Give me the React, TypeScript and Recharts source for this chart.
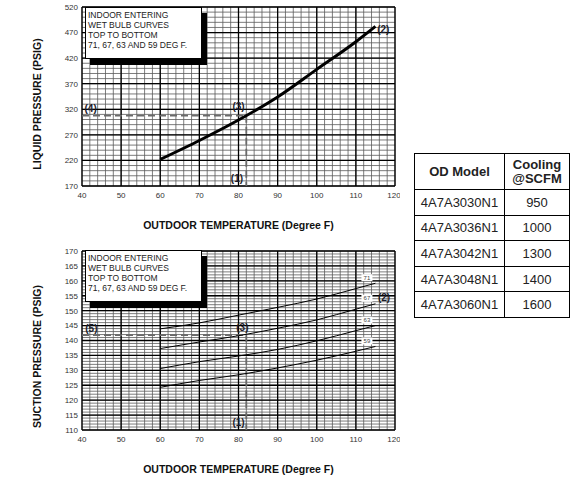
import React from "react";
import {
  Label,
  LabelList,
  Line,
  LineChart,
  ReferenceDot,
  ReferenceLine,
  XAxis,
  YAxis,
} from "recharts";

const FONT = '"Liberation Sans", Arial, sans-serif';

// axis ticks
const tempTicks = [40, 50, 60, 70, 80, 90, 100, 110, 120];
const liquidTicks = [170, 220, 270, 320, 370, 420, 470, 520];
const suctionTicks = [110, 115, 120, 125, 130, 135, 140, 145, 150, 155, 160, 165, 170];

// fine graph-paper lines
const minorTemps = Array.from({ length: 41 }, (_, i) => 40 + i * 2);
const minorLiquid = Array.from({ length: 36 }, (_, i) => 170 + i * 10);
const minorSuction = Array.from({ length: 61 }, (_, i) => 110 + i);

// liquid pressure curve
const liquidTemps = [60, 70, 80, 90, 100, 110, 115];
const liquidPsi = [222, 259, 299, 344, 398, 452, 482];

// suction pressure curves, wet bulb 71 / 67 / 63 / 59
const suctionTemps = [60, 70, 80, 90, 100, 110, 115];
const suction71 = [143.9, 145.9, 148.5, 151.1, 153.9, 157.4, 159.2];
const suction67 = [137.3, 139.5, 141.6, 144.1, 146.9, 150.5, 152.3];
const suction63 = [130.6, 132.9, 134.8, 137.0, 139.9, 143.3, 145.0];
const suction59 = [124.3, 126.6, 128.5, 130.8, 133.4, 136.4, 138.0];
const wetBulbs = ["71", "67", "63", "59"];

// table
const odModels = ["4A7A3030N1", "4A7A3036N1", "4A7A3042N1", "4A7A3048N1", "4A7A3060N1"];
const coolingScfm = [950, 1000, 1300, 1400, 1600];

// example point annotations
const liquidMarks = [
  { label: "(4)", t: 42.2, p: 322 },
  { label: "(3)", t: 80, p: 325 },
  { label: "(1)", t: 79.6, p: 185 },
  { label: "(2)", t: 117, p: 477 },
];
const suctionMarks = [
  { label: "(5)", t: 42.4, p: 144.2 },
  { label: "(3)", t: 81, p: 144.4 },
  { label: "(1)", t: 80, p: 112.6 },
  { label: "(2)", t: 117.2, p: 154.3 },
];
const liquidExample = { t: 82, p: 307.5 };
const suctionExample = { t: 82, p: 141.8 };

const liquidData = liquidTemps.map((t, i) => ({ t, liquid: liquidPsi[i] }));
const suctionData = suctionTemps.map((t, i) => ({
  t,
  wb71: suction71[i],
  wb67: suction67[i],
  wb63: suction63[i],
  wb59: suction59[i],
}));

const tickStyle = { fontSize: 8, fill: "#333", fontFamily: FONT };

const YTitle = (text: string, dy: number) => (props: any) => {
  const vb = props.viewBox || {};
  const cx = (vb.x ?? 0) + 37;
  const cy = (vb.y ?? 0) + (vb.height ?? 0) / 2 + dy;
  return (
    <text
      x={cx}
      y={cy}
      transform={`rotate(-90 ${cx} ${cy})`}
      textAnchor="middle"
      dominantBaseline="central"
      fontFamily={FONT}
      fontSize={10.5}
      fontWeight={700}
      fill="#111"
    >
      {text}
    </text>
  );
};

const XTitle = (props: any) => {
  const vb = props.viewBox || {};
  return (
    <text
      x={(vb.x ?? 0) + (vb.width ?? 0) / 2}
      y={(vb.y ?? 0) + 39}
      textAnchor="middle"
      dominantBaseline="central"
      fontFamily={FONT}
      fontSize={10.5}
      fontWeight={700}
      fill="#111"
    >
      OUTDOOR TEMPERATURE (Degree F)
    </text>
  );
};

const EndTag = (wb: string) => (p: any) => {
  if (p.index !== suctionTemps.length - 1) return null;
  const x = p.viewBox?.x ?? p.x;
  const y = p.viewBox?.y ?? p.y;
  return (
    <g>
      <rect x={x - 14} y={y - 9} width={11} height={7} fill="#fff" />
      <text
        x={x - 8.5}
        y={y - 5.5}
        textAnchor="middle"
        dominantBaseline="central"
        fontFamily={FONT}
        fontSize={6}
        fill="#444"
      >
        {wb}
      </text>
    </g>
  );
};

function NoteBox({ top }: { top: number }) {
  return (
    <div
      style={{
        position: "absolute",
        left: 85,
        top,
        width: 113,
        height: 48,
        background: "#fff",
        border: "1px solid #000",
        boxShadow: "5px 6px 0 0 #000",
        fontFamily: FONT,
        fontSize: 8.5,
        lineHeight: "10px",
        color: "#222",
        padding: "2px 0 0 2px",
        boxSizing: "content-box",
        whiteSpace: "nowrap",
      }}
    >
      INDOOR ENTERING
      <br />
      WET BULB CURVES
      <br />
      TOP TO BOTTOM
      <br />
      71, 67, 63 AND 59 DEG F.
    </div>
  );
}

const annotation = (m: { label: string; t: number; p: number }) => (
  <ReferenceDot
    key={m.label}
    x={m.t}
    y={m.p}
    r={1}
    fill="none"
    stroke="none"
    ifOverflow="visible"
    label={{ value: m.label, position: "center", fontSize: 10, fontWeight: 700, fill: "#1c1c2a", fontFamily: FONT }}
  />
);

// graph paper drawn as reference lines (minor first, then major on top)
const gridLines = (xs: number[], ys: number[], color: string, w: number, tag: string) => [
  ...xs.map((v) => <ReferenceLine key={`${tag}x${v}`} x={v} stroke={color} strokeWidth={w} />),
  ...ys.map((v) => <ReferenceLine key={`${tag}y${v}`} y={v} stroke={color} strokeWidth={w} />),
];

const dashed = { stroke: "#6a6a6a", strokeWidth: 1.8, strokeDasharray: "7 4", ifOverflow: "visible" as const };

export default function App() {
  const cell: React.CSSProperties = {
    border: "1px solid #000",
    padding: 0,
    textAlign: "center",
    fontFamily: FONT,
    fontSize: 13,
    color: "#222",
  };
  return (
    <div style={{ position: "absolute", left: 0, top: 0, width: 575, height: 479, background: "#fff" }}>
      <div style={{ position: "absolute", left: 0, top: 0 }}>
        <LineChart width={400} height={232} data={liquidData} margin={{ top: 7, right: 5, bottom: 0, left: 0 }}>
          <XAxis
            type="number"
            dataKey="t"
            domain={[40, 120]}
            ticks={tempTicks}
            axisLine={false}
            tickLine={false}
            tickSize={4}
            tickMargin={2}
            height={46}
            tick={tickStyle}
          >
            <Label content={XTitle} />
          </XAxis>
          <YAxis
            type="number"
            domain={[170, 520]}
            ticks={liquidTicks}
            axisLine={false}
            tickLine={false}
            tickSize={2}
            tickMargin={2}
            width={82}
            tick={tickStyle}
          >
            <Label content={YTitle("LIQUID PRESSURE (PSIG)", 7.5)} />
          </YAxis>
          {gridLines(minorTemps, minorLiquid, "#5a5a5a", 0.8, "m")}
          {gridLines(tempTicks, liquidTicks, "#000", 1.3, "M")}
          <ReferenceLine segment={[{ x: 40, y: liquidExample.p }, { x: liquidExample.t, y: liquidExample.p }]} {...dashed} />
          <ReferenceLine segment={[{ x: liquidExample.t, y: liquidExample.p }, { x: liquidExample.t, y: 170 }]} {...dashed} />
          <Line
            type="monotone"
            dataKey="liquid"
            stroke="#000"
            strokeWidth={3}
            dot={false}
            isAnimationActive={false}
          />
          {liquidMarks.map(annotation)}
        </LineChart>
      </div>
      <NoteBox top={7} />

      <div style={{ position: "absolute", left: 0, top: 244 }}>
        <LineChart width={400} height={232} data={suctionData} margin={{ top: 7, right: 5, bottom: 0, left: 0 }}>
          <XAxis
            type="number"
            dataKey="t"
            domain={[40, 120]}
            ticks={tempTicks}
            axisLine={false}
            tickLine={false}
            tickSize={4}
            tickMargin={2}
            height={46}
            tick={tickStyle}
          >
            <Label content={XTitle} />
          </XAxis>
          <YAxis
            type="number"
            domain={[110, 170]}
            ticks={suctionTicks}
            axisLine={false}
            tickLine={false}
            tickSize={2}
            tickMargin={2}
            width={82}
            tick={tickStyle}
          >
            <Label content={YTitle("SUCTION PRESSURE (PSIG)", 16)} />
          </YAxis>
          {gridLines(minorTemps, minorSuction, "#5a5a5a", 0.8, "m")}
          {gridLines(tempTicks, suctionTicks, "#000", 1.3, "M")}
          <ReferenceLine segment={[{ x: 40, y: suctionExample.p }, { x: suctionExample.t, y: suctionExample.p }]} {...dashed} />
          <ReferenceLine segment={[{ x: suctionExample.t, y: suctionExample.p }, { x: suctionExample.t, y: 110 }]} {...dashed} />
          {["wb71", "wb67", "wb63", "wb59"].map((k, i) => (
            <Line
              key={k}
              type="monotone"
              dataKey={k}
              stroke="#000"
              strokeWidth={1}
              dot={false}
              isAnimationActive={false}
            >
              <LabelList dataKey={k} content={EndTag(wetBulbs[i])} />
            </Line>
          ))}
          {suctionMarks.map(annotation)}
        </LineChart>
      </div>
      <NoteBox top={250} />

      <table
        style={{
          position: "absolute",
          left: 414,
          top: 153,
          width: 155,
          borderCollapse: "collapse",
          tableLayout: "fixed",
        }}
      >
        <colgroup>
          <col style={{ width: 90 }} />
          <col style={{ width: 65 }} />
        </colgroup>
        <thead>
          <tr style={{ height: 36 }}>
            <th style={{ ...cell, fontWeight: 700 }}>OD Model</th>
            <th style={{ ...cell, fontWeight: 700, lineHeight: "14px" }}>
              Cooling
              <br />
              @SCFM
            </th>
          </tr>
        </thead>
        <tbody>
          {odModels.map((m, i) => (
            <tr key={m} style={{ height: 25.6 }}>
              <td style={cell}>{m}</td>
              <td style={cell}>{coolingScfm[i]}</td>
            </tr>
          ))}
        </tbody>
      </table>
    </div>
  );
}
